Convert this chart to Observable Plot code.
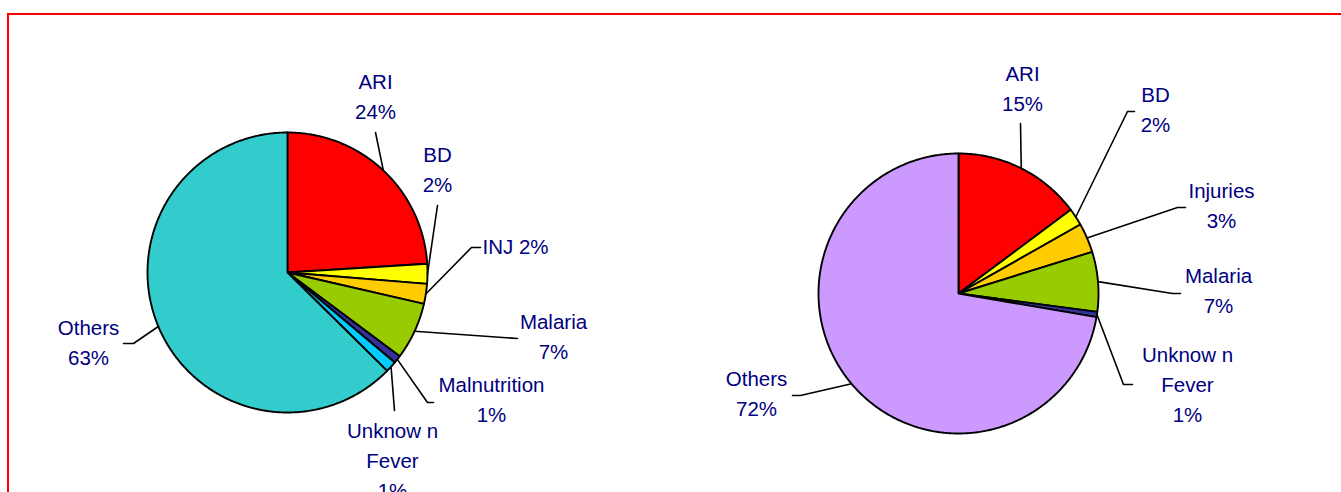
<!DOCTYPE html>
<html>
<head>
<meta charset="utf-8">
<script src="https://cdn.jsdelivr.net/npm/d3@7"></script>
<script src="https://cdn.jsdelivr.net/npm/@observablehq/plot@0.6"></script>
<style>
  html, body { margin: 0; padding: 0; background: #fff; overflow: hidden; width: 1341px; height: 492px; }
  #frame { position: absolute; left: 7px; top: 13px; width: 1400px; height: 600px; border: 2px solid #ff0000; box-sizing: border-box; }
  #chart { position: absolute; left: 0; top: 0; }
</style>
</head>
<body>
<div id="frame"></div>
<div id="chart"></div>
<script>
// ---- data (percent of cases) ----
const leftCategories = ["ARI", "BD", "INJ", "Malaria", "Malnutrition", "Unknow n\nFever", "Others"];
const leftValues     = [24.0, 2.3, 2.3, 6.6, 0.9, 1.3, 62.6];
const leftColors     = ["#FF0000", "#FFFF00", "#FFCC00", "#99CC00", "#333399", "#00CCFF", "#33CCCC"];

const rightCategories = ["ARI", "BD", "Injuries", "Malaria", "Unknow n\nFever", "Others"];
const rightValues     = [14.8, 2.0, 3.4, 6.9, 0.6, 72.3];
const rightColors     = ["#FF0000", "#FFFF00", "#FFCC00", "#99CC00", "#333399", "#CC99FF"];

// ---- layout (pie placement, label anchors and leader elbows) ----
const leftPie  = {cx: 287, cy: 272, r: 140};
const rightPie = {cx: 958, cy: 293, r: 140};
const leftLabelLayout = [
  {x: 375, y: 118, sep: "\n", leader: [[375, 132]]},
  {x: 437, y: 191, sep: "\n", leader: [[437, 205]]},
  {x: 515, y: 253, sep: " ",  leader: [[471, 247], [480, 247]]},
  {x: 553, y: 358, sep: "\n", leader: [[517, 338]]},
  {x: 491, y: 421, sep: "\n", leader: [[427, 402], [433, 402]]},
  {x: 392, y: 497, sep: "\n", leader: [[394, 410]]},
  {x: 88,  y: 364, sep: "\n", leader: [[133, 343], [123, 343]]}
];
const rightLabelLayout = [
  {x: 1022, y: 110, sep: "\n", leader: [[1020, 123]]},
  {x: 1155, y: 131, sep: "\n", leader: [[1127, 111], [1134, 111]]},
  {x: 1221, y: 227, sep: "\n", leader: [[1177, 207], [1185, 207]]},
  {x: 1218, y: 312, sep: "\n", leader: [[1172, 293], [1180, 293]]},
  {x: 1187, y: 421, sep: "\n", leader: [[1123, 384], [1132, 384]]},
  {x: 756,  y: 415, sep: "\n", leader: [[800, 395], [792, 395]]}
];

function buildPie(id, cats, vals, colors, pie, labelLayout) {
  const arcs = d3.pie().sort(null).value(d => d)(vals);
  const pt = (a, rr) => ({x: pie.cx + rr * Math.sin(a), y: pie.cy - rr * Math.cos(a)});
  const slices = arcs.map((a, i) => {
    const pts = [{x: pie.cx, y: pie.cy}];
    const n = Math.max(2, Math.ceil((a.endAngle - a.startAngle) / 0.01));
    for (let k = 0; k <= n; k++) pts.push(pt(a.startAngle + (a.endAngle - a.startAngle) * k / n, pie.r));
    return {color: colors[i], pts};
  });
  const labels = arcs.map((a, i) => ({
    x: labelLayout[i].x, y: labelLayout[i].y,
    text: cats[i] + labelLayout[i].sep + Math.round(vals[i]) + "%"
  }));
  const leaders = [];
  arcs.forEach((a, i) => {
    const mid = (a.startAngle + a.endAngle) / 2;
    const s = pt(mid, pie.r);
    leaders.push({id: id + i, x: s.x, y: s.y});
    labelLayout[i].leader.forEach(([x, y]) => leaders.push({id: id + i, x, y}));
  });
  return {slices, labels, leaders};
}

const L = buildPie("L", leftCategories, leftValues, leftColors, leftPie, leftLabelLayout);
const R = buildPie("R", rightCategories, rightValues, rightColors, rightPie, rightLabelLayout);

const sliceMarks = [...L.slices, ...R.slices].map(s =>
  Plot.line(s.pts, {x: "x", y: "y", fill: s.color, stroke: "black", strokeWidth: 1.9, curve: "linear-closed", strokeLinejoin: "round"})
);

const chart = Plot.plot({
  width: 1341,
  height: 492,
  margin: 0,
  x: {domain: [0, 1341], range: [0, 1341], axis: null},
  y: {domain: [0, 492], range: [0, 492], axis: null},
  style: {background: "transparent", overflow: "visible"},
  marks: [
    ...sliceMarks,
    Plot.line([...L.leaders, ...R.leaders], {x: "x", y: "y", z: "id", stroke: "black", strokeWidth: 1.6}),
    Plot.text([...L.labels, ...R.labels], {
      x: "x", y: "y", text: "text",
      lineAnchor: "bottom", textAnchor: "middle", lineHeight: 1.45,
      fill: "#000080", fontSize: 20.5, fontFamily: "Liberation Sans, Arial, sans-serif"
    })
  ]
});
document.getElementById("chart").appendChild(chart);
</script>
</body>
</html>
